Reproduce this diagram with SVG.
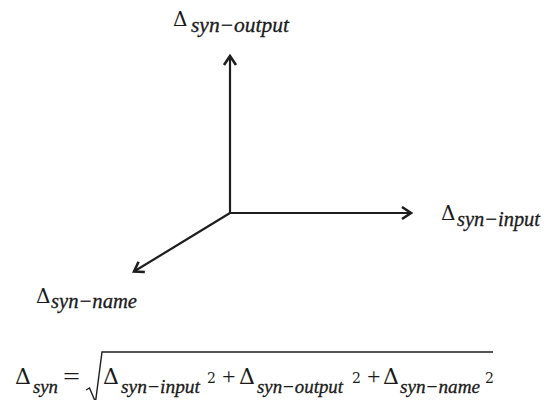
<svg xmlns="http://www.w3.org/2000/svg" width="544" height="400" viewBox="0 0 544 400">
  <style>
    .d { font-family: "DejaVu Serif", "Liberation Serif", serif; font-size: 20px; fill: #1a1a1a; }
    .s { font-family: "Liberation Serif", "DejaVu Serif", serif; font-style: italic; font-size: 21px; fill: #1a1a1a; stroke: #1a1a1a; stroke-width: 0.3; }
    .fd { font-family: "DejaVu Serif", "Liberation Serif", serif; font-size: 22px; fill: #1a1a1a; }
    .fs { font-family: "Liberation Serif", "DejaVu Serif", serif; font-style: italic; font-size: 19.5px; fill: #1a1a1a; stroke: #1a1a1a; stroke-width: 0.3; }
    .op { font-family: "Liberation Serif", "DejaVu Serif", serif; font-size: 24px; fill: #1a1a1a; }
    .sup { font-family: "DejaVu Serif", "Liberation Serif", serif; font-size: 14px; fill: #1a1a1a; }
    .axis { stroke: #1e1e1e; stroke-width: 2.2; fill: none; marker-end: url(#head); }
  </style>
  <defs>
    <marker id="head" viewBox="-12 -8 14 16" markerUnits="userSpaceOnUse" markerWidth="14" markerHeight="16" refX="0" refY="0" orient="auto">
      <path d="M-9,-6 L0,0 L-9,6" fill="none" stroke="#1e1e1e" stroke-width="2.6" stroke-linejoin="miter"/>
    </marker>
  </defs>

  <g id="connectors">
    <line class="axis" x1="230" y1="213" x2="230" y2="56"/>
    <line class="axis" x1="230" y1="213" x2="411" y2="213"/>
    <line class="axis" x1="230" y1="213" x2="134" y2="271.5"/>
  </g>

  <g id="label-output">
    <text class="d" x="173" y="26">Δ</text>
    <text class="s" x="191" y="32" textLength="98" lengthAdjust="spacingAndGlyphs">syn−output</text>
  </g>

  <g id="label-input">
    <text class="d" x="441" y="220">Δ</text>
    <text class="s" x="457" y="226" textLength="83" lengthAdjust="spacingAndGlyphs">syn−input</text>
  </g>

  <g id="label-name">
    <text class="d" x="36" y="303">Δ</text>
    <text class="s" x="51" y="308" textLength="86" lengthAdjust="spacingAndGlyphs">syn−name</text>
  </g>

  <g id="formula">
    <text class="fd" x="15" y="384">Δ</text>
    <text class="fs" x="33" y="393" textLength="25" lengthAdjust="spacingAndGlyphs">syn</text>
    <text class="op" x="63" y="384" textLength="17" lengthAdjust="spacingAndGlyphs">=</text>
    <path d="M86,390 L89.5,388 L95.5,402 L102,352 L493,352" fill="none" stroke="#1e1e1e" stroke-width="1.4" stroke-linejoin="miter"/>
    <text class="fd" x="103" y="384">Δ</text>
    <text class="fs" x="121" y="393" textLength="79" lengthAdjust="spacingAndGlyphs">syn−input</text>
    <text class="sup" x="207" y="383">2</text>
    <text class="op" x="222" y="384">+</text>
    <text class="fd" x="239" y="384">Δ</text>
    <text class="fs" x="257" y="393" textLength="86" lengthAdjust="spacingAndGlyphs">syn−output</text>
    <text class="sup" x="352" y="383">2</text>
    <text class="op" x="367" y="384">+</text>
    <text class="fd" x="383" y="384">Δ</text>
    <text class="fs" x="400" y="393" textLength="80" lengthAdjust="spacingAndGlyphs">syn−name</text>
    <text class="sup" x="485" y="383">2</text>
  </g>
</svg>
